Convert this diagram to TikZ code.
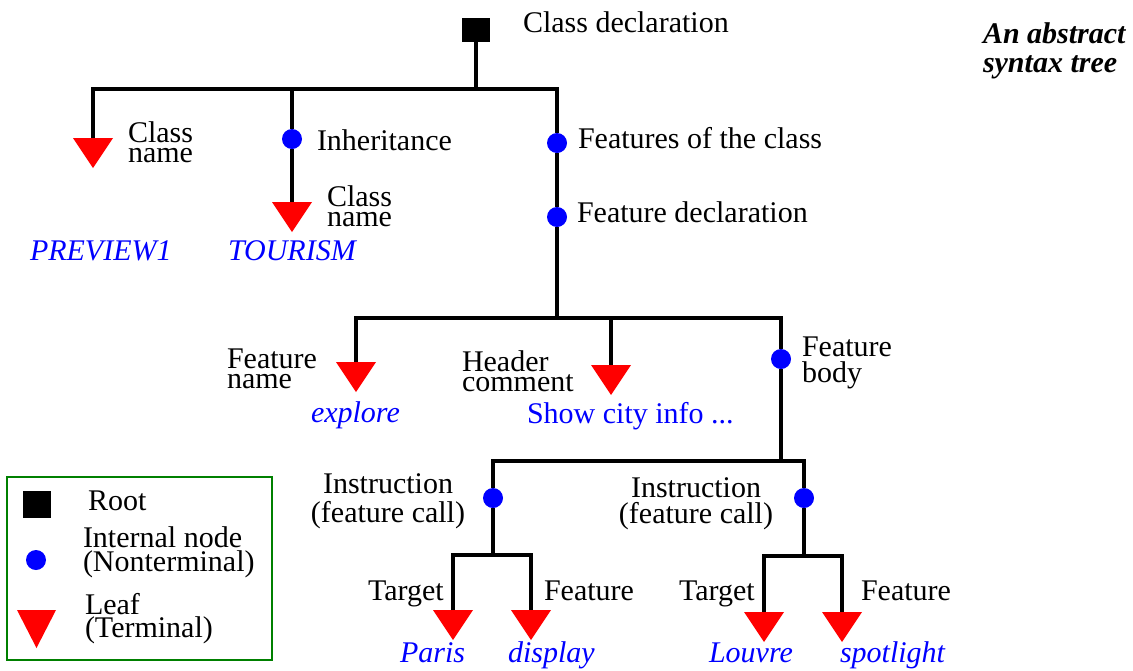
\documentclass[tikz,border=0pt]{standalone}
\usepackage{fontspec}
\setmainfont{Liberation Serif}
\definecolor{legendgreen}{RGB}{0,128,0}
\begin{document}
\begin{tikzpicture}[x=1pt,y=-1pt,
  every node/.style={inner sep=0pt, outer sep=0pt},
  lbl/.style={anchor=base west, font=\fontsize{30}{20}\selectfont, align=left},
  val/.style={anchor=base west, text=blue, font=\fontsize{30}{20}\selectfont\itshape},
  dotnode/.style={circle, fill=blue, minimum size=20pt},
  rootnode/.style={rectangle, fill=black, minimum width=28pt, minimum height=24pt},
  leaf/.style={rectangle, minimum width=40pt, minimum height=30pt, anchor=north,
    path picture={\fill[red] (path picture bounding box.north west) -- (path picture bounding box.north east) -- (path picture bounding box.south) -- cycle;}},
  edge/.style={line width=3.3pt},
]
\useasboundingbox (0,0) rectangle (1133,670);

% nodes of the tree
\node[rootnode] (root) at (476,30) {};
\node[leaf] (t1) at (93,138) {};
\node[dotnode] (inh) at (292,139) {};
\node[leaf] (t2) at (292,202) {};
\node[dotnode] (fc) at (557,143) {};
\node[dotnode] (fd) at (557,217) {};
\node[leaf] (t3) at (356,362) {};
\node[leaf] (t4) at (611,365) {};
\node[dotnode] (fb) at (781,359) {};
\node[dotnode] (i1) at (493,498) {};
\node[dotnode] (i2) at (804,498) {};
\node[leaf] (t5) at (453,610) {};
\node[leaf] (t6) at (531,610) {};
\node[leaf] (t7) at (764,612) {};
\node[leaf] (t8) at (842,612) {};

\coordinate (b1) at (476,89);
\coordinate (b2) at (557,318);
\coordinate (b3) at (781,461);
\coordinate (b4) at (493,555);
\coordinate (b5) at (804,556);

% connectors
\draw[edge] (root.south) -- (b1);
\draw[edge] (t1.north) |- (b1) -| (fc.north);
\draw[edge] (inh.north) -- (inh |- b1);
\draw[edge] (inh.south) -- (t2.north);
\draw[edge] (fc.south) -- (fd.north);
\draw[edge] (fd.south) -- (b2);
\draw[edge] (t3.north) |- (b2) -| (fb.north);
\draw[edge] (t4.north) -- (t4.north |- b2);
\draw[edge] (fb.south) -- (b3);
\draw[edge] (i1.north) |- (b3) -| (i2.north);
\draw[edge] (i1.south) -- (b4);
\draw[edge] (t5.north) |- (b4) -| (t6.north);
\draw[edge] (i2.south) -- (b5);
\draw[edge] (t7.north) |- (b5) -| (t8.north);

% labels (multi-line nodes are placed by the baseline of their last line)
\node[lbl] (lroot) at (523,32) {Class declaration};
\node[lbl] (lcn1) at (128,162) {Class\\name};
\node[lbl] (linh) at (317,150) {Inheritance};
\node[lbl] (lcn2) at (327,226) {Class\\name};
\node[val] (vprev) at (30,260) {PREVIEW1};
\node[val] (vtour) at (228,260) {TOURISM};
\node[lbl] (lfc) at (578,148) {Features of the class};
\node[lbl] (lfd) at (577,222) {Feature declaration};
\node[lbl] (lfn) at (227,388) {Feature\\name};
\node[lbl] (lhc) at (462,391) {Header\\comment};
\node[val] (vexp) at (311,422) {explore};
\node[anchor=base west, text=blue, font=\fontsize{30}{20}\selectfont] (vshow) at (527,423) {Show city info ...};
\node[lbl, font=\fontsize{30}{26}\selectfont] (lfb) at (802,382) {Feature\\body};
\node[lbl, anchor=base, align=center, font=\fontsize{30}{29}\selectfont] (li1) at (388,522) {Instruction\\(feature call)};
\node[lbl, anchor=base, align=center, font=\fontsize{30}{26}\selectfont] (li2) at (696,523) {Instruction\\(feature call)};
\node[lbl] (ltg1) at (368,600) {Target};
\node[lbl] (lft1) at (544,600) {Feature};
\node[lbl] (ltg2) at (679,600) {Target};
\node[lbl] (lft2) at (861,600) {Feature};
\node[val] (vparis) at (400,662) {Paris};
\node[val] (vdisp) at (508,662) {display};
\node[val] (vlouv) at (709,662) {Louvre};
\node[val] (vspot) at (840,662) {spotlight};

% title
\node[anchor=base west, align=left, font=\fontsize{30}{29}\selectfont\bfseries\itshape] (title) at (983,72) {An abstract\\syntax tree};

% legend
\node[draw=legendgreen, line width=2.5pt, minimum width=265pt, minimum height=183pt] (legend) at (139.5,568.5) {};
\node[rootnode, minimum height=27pt] (kroot) at (37,504.5) {};
\node[dotnode] (kdot) at (36,560) {};
\node[leaf, minimum width=39pt, minimum height=38pt] (kleaf) at (36.5,610) {};
\node[lbl] (kroottxt) at (88,510) {Root};
\node[lbl, font=\fontsize{30}{24}\selectfont] (kdottxt) at (83,571) {Internal node\\(Nonterminal)};
\node[lbl, font=\fontsize{30}{23}\selectfont] (kleaftxt) at (85,637) {Leaf\\(Terminal)};
\end{tikzpicture}
\end{document}
